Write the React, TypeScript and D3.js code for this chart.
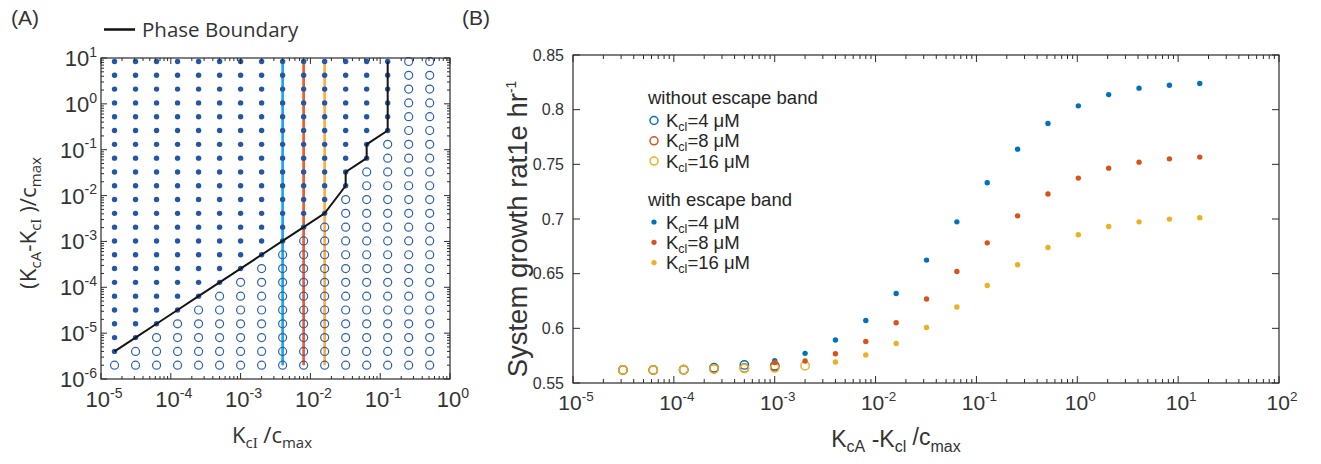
import React from 'react';
import * as d3 from 'd3';

// ---------- Panel A data ----------
const A_COLS = [1.5625e-5, 3.125e-5, 6.25e-5, 1.25e-4, 2.5e-4, 5e-4, 1e-3, 2e-3, 4e-3, 8e-3, 1.6e-2, 3.2e-2, 6.4e-2, 0.128, 0.256, 0.512];
const A_ROWS = [2e-6, 4e-6, 8e-6, 1.6e-5, 3.2e-5, 6.4e-5, 1.28e-4, 2.56e-4, 5.12e-4, 1.024e-3, 2.048e-3, 4.096e-3, 8.192e-3, 1.6384e-2, 3.2768e-2, 6.5536e-2, 0.131072, 0.262144, 0.524288, 1.048576, 2.097152, 4.194304, 8.388608];
// index of lowest filled row in each column (23 = no filled dot)
const A_LOWEST_FILLED = [1, 2, 3, 4, 5, 6, 7, 8, 9, 10, 11, 13, 15, 17, 23, 23];
const BOUNDARY_X = [1.5625e-5, 3.125e-5, 6.25e-5, 1.25e-4, 2.5e-4, 5e-4, 1e-3, 2e-3, 4e-3, 8e-3, 1.6e-2, 3.2e-2, 3.2e-2, 6.4e-2, 6.4e-2, 0.128, 0.128];
const BOUNDARY_Y = [4e-6, 8e-6, 1.6e-5, 3.2e-5, 6.4e-5, 1.28e-4, 2.56e-4, 5.12e-4, 1.024e-3, 2.048e-3, 4.096e-3, 1.6384e-2, 3.2768e-2, 6.5536e-2, 0.131072, 0.262144, 8.388608];
const KCL_LINES = [4e-3, 8e-3, 1.6e-2];
const KCL_COLORS = ['#1aa9e6', '#f15a29', '#fbb040'];

// ---------- Panel B data ----------
const B_X = [3.125e-5, 6.25e-5, 1.25e-4, 2.5e-4, 5e-4, 1e-3, 2e-3, 4e-3, 8e-3, 1.6e-2, 3.2e-2, 6.4e-2, 0.128, 0.256, 0.512, 1.024, 2.048, 4.096, 8.192, 16.384];
const OPEN_4 = [0.5619, 0.5619, 0.5622, 0.5640, 0.5665, 0.5658];
const OPEN_8 = [0.5619, 0.5619, 0.5621, 0.5630, 0.5638, 0.5648];
const OPEN_16 = [0.5619, 0.5619, 0.5621, 0.5628, 0.5633, 0.5638, 0.5658];
const FILLED_4 = [0.5705, 0.5771, 0.5893, 0.6072, 0.6319, 0.6624, 0.6974, 0.7331, 0.7639, 0.7873, 0.8035, 0.8138, 0.8197, 0.8224, 0.8239];
const FILLED_8 = [0.5688, 0.5701, 0.5768, 0.5880, 0.6051, 0.6268, 0.6520, 0.6782, 0.7029, 0.7228, 0.7374, 0.7465, 0.7520, 0.7550, 0.7566];
const FILLED_16 = [0.5692, 0.5756, 0.5862, 0.6008, 0.6195, 0.6392, 0.6581, 0.6740, 0.6856, 0.6931, 0.6974, 0.6999, 0.7011];
const FILLED_START = [5, 5, 7]; // index into B_X where filled series begin
const B_COLORS = ['#0072bd', '#d95319', '#edb120'];
const LEGEND_LABELS = ['4', '8', '16'];
const B_Y_TICKS = [0.55, 0.6, 0.65, 0.7, 0.75, 0.8, 0.85];

const SANS = 'Liberation Sans, Arial, sans-serif';
const OPEN = '"Open Sans", sans-serif';
const AX = '#2b2b2b';
const TXT = '#333333';

function logTicks(lo: number, hi: number) {
  const major: number[] = [];
  const minor: number[] = [];
  for (let e = lo; e <= hi; e++) {
    major.push(Math.pow(10, e));
    if (e < hi) for (let k = 2; k <= 9; k++) minor.push(k * Math.pow(10, e));
  }
  return { major, minor };
}

function Pow10(props: { x: number; y: number; e: number; size: number; anchor?: string }) {
  const { x, y, e, size, anchor } = props;
  return (
    <text x={x} y={y} fontSize={size} fill={TXT} fontFamily={SANS} textAnchor={anchor || 'middle'}>
      10
      <tspan dy={-size * 0.42} fontSize={size * 0.64}>{e < 0 ? '-' + Math.abs(e) : String(e)}</tspan>
    </text>
  );
}

function PanelA() {
  const x = d3.scaleLog().domain([1e-5, 1]).range([101, 450]);
  const y = d3.scaleLog().domain([1e-6, 10]).range([379, 58]);
  const [x0, x1] = x.range();
  const [y0, y1] = y.range();
  const xt = logTicks(-5, 0);
  const yt = logTicks(-6, 1);
  const line = d3.line<number>().x((_, i) => x(BOUNDARY_X[i])).y((d) => y(d));
  return (
    <g>
      <text x={11} y={25} fontSize={21} fontFamily={SANS} fill={TXT}>(A)</text>
      {/* legend */}
      <line x1={104} x2={135} y1={29.5} y2={29.5} stroke="#111" strokeWidth={2.5} />
      <text x={142} y={37} fontSize={20.5} fontFamily={OPEN} fill={TXT}>Phase Boundary</text>

      {/* colored lines */}
      {KCL_LINES.map((v, i) => (
        <line key={'k' + i} x1={x(v)} x2={x(v)} y1={y(A_ROWS[0])} y2={y(A_ROWS[A_ROWS.length - 1])} stroke={KCL_COLORS[i]} strokeWidth={2.7} />
      ))}
      {/* grid dots */}
      {A_COLS.map((c, i) =>
        A_ROWS.map((r, j) =>
          j >= A_LOWEST_FILLED[i] ? (
            <circle key={i + '-' + j} cx={x(c)} cy={y(r)} r={2.7} fill="#2256a6" />
          ) : (
            <circle key={i + '-' + j} cx={x(c)} cy={y(r)} r={4} fill="none" stroke="#2d5fb3" strokeWidth={1.2} />
          )
        )
      )}
      <path d={line(BOUNDARY_Y) || ''} fill="none" stroke="#151515" strokeWidth={2} />

      {/* axes box */}
      <rect x={x0} y={y1} width={x1 - x0} height={y0 - y1} fill="none" stroke={AX} strokeWidth={1.2} />
      {xt.major.map((v, i) => (
        <g key={'xm' + i}>
          <line x1={x(v)} x2={x(v)} y1={y0} y2={y0 - 6} stroke={AX} />
          <line x1={x(v)} x2={x(v)} y1={y1} y2={y1 + 6} stroke={AX} />
        </g>
      ))}
      {xt.minor.map((v, i) => (
        <g key={'xn' + i}>
          <line x1={x(v)} x2={x(v)} y1={y0} y2={y0 - 3} stroke={AX} />
          <line x1={x(v)} x2={x(v)} y1={y1} y2={y1 + 3} stroke={AX} />
        </g>
      ))}
      {yt.major.map((v, i) => (
        <g key={'ym' + i}>
          <line x1={x0} x2={x0 + 6} y1={y(v)} y2={y(v)} stroke={AX} />
          <line x1={x1} x2={x1 - 6} y1={y(v)} y2={y(v)} stroke={AX} />
        </g>
      ))}
      {yt.minor.map((v, i) => (
        <g key={'yn' + i}>
          <line x1={x0} x2={x0 + 3} y1={y(v)} y2={y(v)} stroke={AX} />
          <line x1={x1} x2={x1 - 3} y1={y(v)} y2={y(v)} stroke={AX} />
        </g>
      ))}
      {xt.major.map((v, i) => (
        <Pow10 key={'xl' + i} x={x(v) + 3} y={407} e={Math.round(Math.log10(v))} size={22} />
      ))}
      {yt.major.map((v, i) => (
        <Pow10 key={'yl' + i} x={97} y={y(v) + 8} e={Math.round(Math.log10(v))} size={22} anchor="end" />
      ))}
      {/* axis labels */}
      <text x={272} y={443} fontSize={22} fontFamily={OPEN} fill={TXT} textAnchor="middle">
        K<tspan dy={5} fontSize={15}>c</tspan><tspan fontSize={15} fontFamily="Liberation Serif, serif">I</tspan>
        <tspan dy={-5}> /c</tspan><tspan dy={5} fontSize={15}>max</tspan>
      </text>
      <text transform="translate(36,223) rotate(-90)" fontSize={22.5} fontFamily={OPEN} fill={TXT} textAnchor="middle">
        (K<tspan dy={5} fontSize={15}>cA</tspan><tspan dy={-5}>-K</tspan><tspan dy={5} fontSize={15}>c</tspan><tspan fontSize={15} fontFamily="Liberation Serif, serif">I</tspan>
        <tspan dy={-5}> )/c</tspan><tspan dy={5} fontSize={15}>max</tspan>
      </text>
    </g>
  );
}

function PanelB() {
  const x = d3.scaleLog().domain([1e-5, 100]).range([573, 1279]);
  const y = d3.scaleLinear().domain([0.55, 0.85]).range([383, 55]);
  const [x0, x1] = x.range();
  const [y0, y1] = y.range();
  const xt = logTicks(-5, 2);
  const opens = [OPEN_4, OPEN_8, OPEN_16];
  const filled = [FILLED_4, FILLED_8, FILLED_16];
  return (
    <g>
      <text x={462} y={25} fontSize={21} fontFamily={SANS} fill={TXT}>(B)</text>
      {/* axes */}
      <rect x={x0} y={y1} width={x1 - x0} height={y0 - y1} fill="none" stroke={AX} strokeWidth={1.2} />
      {xt.major.map((v, i) => (
        <g key={'xm' + i}>
          <line x1={x(v)} x2={x(v)} y1={y0} y2={y0 - 7} stroke={AX} />
          <line x1={x(v)} x2={x(v)} y1={y1} y2={y1 + 7} stroke={AX} />
          <Pow10 x={x(v) + 3} y={410} e={Math.round(Math.log10(v))} size={21} />
        </g>
      ))}
      {xt.minor.map((v, i) => (
        <g key={'xn' + i}>
          <line x1={x(v)} x2={x(v)} y1={y0} y2={y0 - 4} stroke={AX} />
          <line x1={x(v)} x2={x(v)} y1={y1} y2={y1 + 4} stroke={AX} />
        </g>
      ))}
      {B_Y_TICKS.map((v, i) => (
        <g key={'yt' + i}>
          <line x1={x0} x2={x0 + 7} y1={y(v)} y2={y(v)} stroke={AX} />
          <line x1={x1} x2={x1 - 7} y1={y(v)} y2={y(v)} stroke={AX} />
          <text x={564} y={y(v) + 5.5} fontSize={16} fontFamily={SANS} fill={TXT} textAnchor="end">{String(v)}</text>
        </g>
      ))}
      {/* open series */}
      {opens.map((s, k) =>
        s.map((v, i) => (
          <circle key={'o' + k + '-' + i} cx={x(B_X[i])} cy={y(v)} r={4.2} fill="none" stroke={B_COLORS[k]} strokeWidth={1.4} />
        ))
      )}
      {filled.map((s, k) =>
        s.map((v, i) => (
          <circle key={'f' + k + '-' + i} cx={x(B_X[i + FILLED_START[k]])} cy={y(v)} r={2.7} fill={B_COLORS[k]} />
        ))
      )}
      {/* legend */}
      <text x={648} y={104} fontSize={18.5} fontFamily={SANS} fill="#262626">without escape band</text>
      {LEGEND_LABELS.map((l, k) => (
        <g key={'lo' + k}>
          <circle cx={654} cy={120.5 + k * 20.3} r={4} fill="none" stroke={B_COLORS[k]} strokeWidth={1.5} />
          <text x={666} y={127 + k * 20.3} fontSize={18.5} fontFamily={SANS} fill="#262626">
            K<tspan dy={4} fontSize={12.5}>cl</tspan><tspan dy={-4}>={l} μM</tspan>
          </text>
        </g>
      ))}
      <text x={648} y={206} fontSize={18.5} fontFamily={SANS} fill="#262626">with escape band</text>
      {LEGEND_LABELS.map((l, k) => (
        <g key={'lf' + k}>
          <circle cx={654} cy={222 + k * 20.3} r={2.6} fill={B_COLORS[k]} />
          <text x={666} y={228.5 + k * 20.3} fontSize={18.5} fontFamily={SANS} fill="#262626">
            K<tspan dy={4} fontSize={12.5}>cl</tspan><tspan dy={-4}>={l} μM</tspan>
          </text>
        </g>
      ))}
      {/* axis labels */}
      <text x={896} y={447} fontSize={23} fontFamily={SANS} fill={TXT} textAnchor="middle">
        K<tspan dy={5} fontSize={16}>cA</tspan><tspan dy={-5}> -K</tspan><tspan dy={5} fontSize={16}>cl</tspan>
        <tspan dy={-7}> /c</tspan><tspan dy={7} fontSize={16}>max</tspan>
      </text>
      <text transform="translate(527,229) rotate(-90)" fontSize={27.5} fontFamily={SANS} fill={TXT} textAnchor="middle">
        System growth rat1e hr<tspan dy={-11} fontSize={14}>-1</tspan>
      </text>
    </g>
  );
}

export default function App() {
  return (
    <svg width={1321} height={464} style={{ position: 'absolute', left: 0, top: 0, background: '#fff' }}>
      <rect x={0} y={0} width={1321} height={464} fill="#fff" />
      <PanelA />
      <PanelB />
    </svg>
  );
}
